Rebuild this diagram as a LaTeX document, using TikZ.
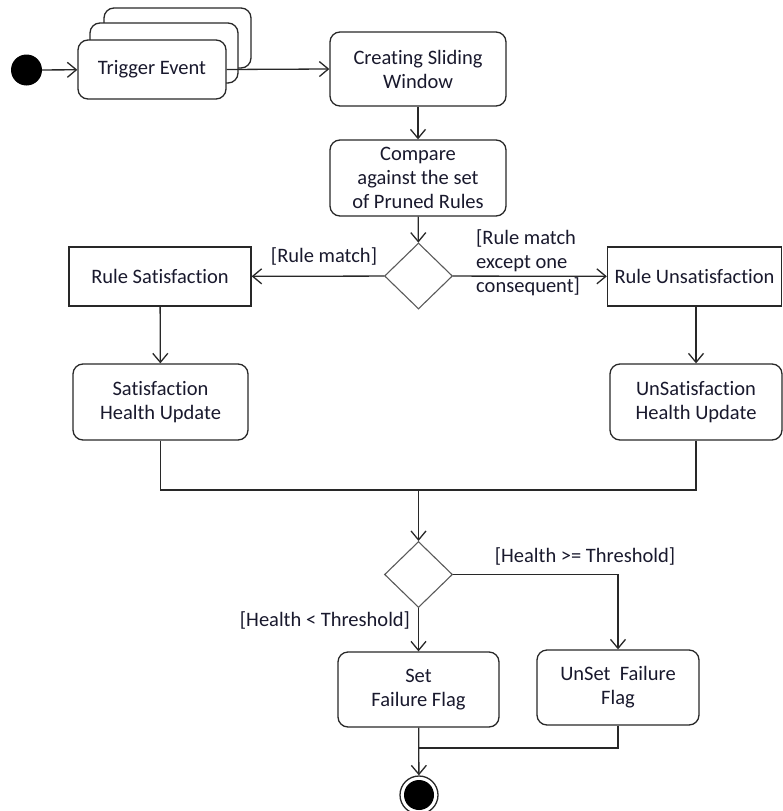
\documentclass[tikz,border=0pt]{standalone}
\usepackage{fontspec}
\setmainfont{Carlito}[Ligatures={NoCommon}]
\usetikzlibrary{arrows.meta,shapes.geometric}
\definecolor{txt}{RGB}{25,25,45}
\definecolor{ln}{RGB}{40,40,40}
\definecolor{dm}{RGB}{90,90,90}
\tikzset{
  every node/.style={font=\fontsize{20.5}{24}\selectfont, text=txt},
  act/.style={draw=ln, line width=1.3pt, rounded corners=10pt, fill=white, align=center, inner sep=0pt},
  rect/.style={draw=ln, line width=1.3pt, fill=white, align=center, inner sep=0pt},
  dec/.style={draw=dm, line width=1.1pt, diamond, fill=white, inner sep=0pt, minimum width=68pt, minimum height=66pt},
  flow/.style={draw=ln, line width=1.3pt, -{Straight Barb[length=9pt,width=15pt,line width=1.3pt]}},
  plain/.style={draw=ln, line width=1.3pt},
  lbl/.style={inner sep=0pt}
}
\begin{document}
\begin{tikzpicture}[x=1pt,y=-1pt]
\useasboundingbox (0,0) rectangle (782,811);
% initial node
\node[circle, fill=black, minimum size=31pt, inner sep=0pt] (start) at (26.5,70) {};
% trigger event stack
\draw[act] (104,8) rectangle (251,68);
\draw[act] (90,23) rectangle (238,83);
\node[act, minimum width=148pt, minimum height=59pt] (trig) at (152,69.5) {Trigger Event};
\node[act, minimum width=176pt, minimum height=74pt] (create) at (418,69) {Creating Sliding\\Window};
\node[act, minimum width=176pt, minimum height=76pt] (comp) at (418,178) {Compare\\against the set\\of Pruned Rules};
\node[dec] (d1) at (418.5,276) {};
\node[rect, minimum width=182pt, minimum height=59pt] (rsat) at (160,276.5) {Rule Satisfaction};
\node[rect, minimum width=174pt, minimum height=59pt] (runsat) at (694.5,276.5) {Rule Unsatisfaction};
\node[act, minimum width=175pt, minimum height=76pt] (shu) at (160.5,402) {Satisfaction\\Health Update};
\node[act, minimum width=172pt, minimum height=76pt] (ushu) at (696,402) {UnSatisfaction\\Health Update};
\node[dec] (d2) at (418.5,574.5) {};
\node[act, minimum width=161pt, minimum height=75pt] (set) at (418.5,689.5) {Set\\Failure Flag};
\node[act, minimum width=162pt, minimum height=75pt] (unset) at (618,687.5) {UnSet~ Failure\\Flag};
\node[circle, draw=ln, line width=1.3pt, fill=white, minimum size=38pt, inner sep=0pt] (final) at (419,795) {};
\node[circle, fill=black, minimum size=30pt, inner sep=0pt] at (final) {};
\coordinate (mj) at (418.5,490);
\coordinate (fj) at (418.5,748);
% connectors
\draw[flow] (start) -- (trig);
\draw[flow] (trig.east) -- (create.west);
\draw[flow] (create) -- (comp);
\draw[flow] (comp) -- (d1);
\draw[flow] (d1) -- (rsat);
\draw[flow] (d1) -- (runsat);
\draw[flow] (rsat) -- (shu);
\draw[flow] (runsat.south -| ushu.north) -- (ushu);
\draw[plain] (shu.south) |- (mj);
\draw[plain] (ushu.south) |- (mj);
\draw[flow] (mj) -- (d2);
\draw[flow] (d2) -- (set);
\draw[flow] (d2.east) -| (unset.north);
\draw[plain] (unset.south) |- (fj);
\draw[flow] (set) -- (final);
% labels
\node[lbl] at (324,256) {[Rule match]};
\node[lbl, align=left, anchor=west] at (476,263) {[Rule match\\except one\\consequent]};
\node[lbl] at (585,556) {[Health >= Threshold]};
\node[lbl] at (325,620) {[Health < Threshold]};
\end{tikzpicture}
\end{document}
